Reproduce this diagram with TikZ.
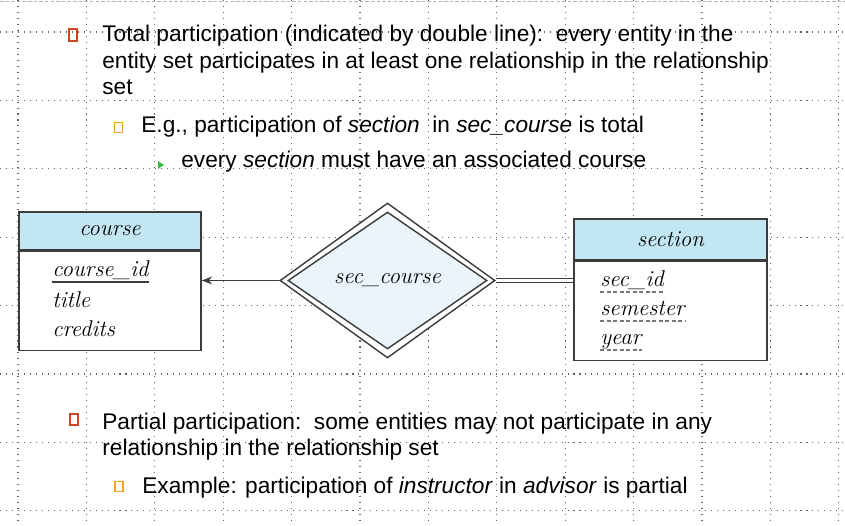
\documentclass[tikz,border=0pt]{standalone}
\usepackage{fontspec}
\setsansfont{Liberation Sans}
\usepackage{tikz}
\usetikzlibrary{positioning,arrows.meta,shapes.geometric,calc}
\definecolor{hdrblue}{RGB}{194,231,242}
\definecolor{relblue}{RGB}{233,245,250}
\definecolor{erline}{RGB}{60,60,60}
\definecolor{bulred}{RGB}{204,68,34}
\definecolor{bulorange}{RGB}{245,160,30}
\definecolor{bulgreen}{RGB}{60,190,60}
\definecolor{gridgray}{RGB}{100,100,100}
\newcommand{\pxl}{0.02cm}
\tikzset{
  txt/.style    = {font=\sffamily\fontsize{12.9}{15.1}\selectfont, inner sep=0pt, anchor=base west, align=left},
  ertxt/.style  = {font=\fontsize{13}{15}\selectfont\itshape, inner sep=0pt},
  hdr/.style    = {draw=erline, line width=0.8pt, fill=hdrblue, inner sep=0pt, font=\fontsize{13}{15}\selectfont\itshape},
  ebody/.style  = {draw=erline, line width=0.8pt, fill=white, inner sep=0pt},
  bulsq/.style  = {draw, rectangle, line width=1.1pt, inner sep=0pt, minimum width=8.5*\pxl, minimum height=11.5*\pxl},
  griddot/.style= {gridgray, line width=0.6pt, dash pattern=on 0.6pt off 2.8pt},
  keyline/.style= {erline, line width=0.6pt},
  pkeyline/.style={erline!70, line width=0.6pt, dash pattern=on 2.3pt off 1.4pt},
}

\begin{document}
\begin{tikzpicture}[x=\pxl, y=-\pxl]
  \useasboundingbox (0,0) rectangle (845,526);
  % grid of the slide
  \foreach \gx in {0,...,12} \draw[griddot] ({18+68.4*\gx},0) -- ({18+68.4*\gx},526);
  \foreach \gy in {0,...,7} \draw[griddot] (0,{32+68.4*\gy}) -- (845,{32+68.4*\gy});
  \draw[gray!60, dash pattern=on 2pt off 1.2pt] (0,1) -- (845,1);

  % bullets and text (multi-line nodes sit on their last baseline)
  \node[bulsq, draw=bulred] (b1) at (73,35) {};
  \node[txt] (t1) at (102,95) {Total participation (indicated by double line):\ \ every entity in the\\entity set participates in at least one relationship in the relationship\\set};
  \node[bulsq, draw=bulorange, minimum width=8*\pxl, minimum height=10*\pxl] (b2) at (118.5,127.5) {};
  \node[txt] (t2) at (141,133) {E.g., participation of \textit{section}\ \ in \textit{sec\_course} is total};
  \fill[bulgreen] (158,161) -- (164,165) -- (158,169) -- cycle;
  \node[txt] (t3) at (181,168) {every \textit{section} must have an associated course};
  \node[bulsq, draw=bulred] (b3) at (74,419.5) {};
  \node[txt] (t4) at (102,456) {Partial participation:\ \ some entities may not participate in any\\relationship in the relationship set};
  \node[bulsq, draw=bulorange, minimum width=8*\pxl, minimum height=10*\pxl] (b4) at (119,486.5) {};
  \node[txt] (t5) at (142,494) {Example: participation of \textit{instructor} in \textit{advisor} is partial};

  % entity course
  \node[hdr, minimum width=182*\pxl, minimum height=38*\pxl] (coursehdr) at (110,231) {course};
  \node[ebody, minimum width=182*\pxl, minimum height=99*\pxl, below=0pt of coursehdr] (coursebody) {};
  \node[ertxt, anchor=base west] (cid) at (52,277) {course\_id};
  \node[ertxt, anchor=base west] (ctitle) at (52,308) {title};
  \node[ertxt, anchor=base west] (ccred) at (52,337) {credits};
  \draw[keyline] ([yshift=-5*\pxl]cid.base west) -- ([yshift=-5*\pxl]cid.base east);

  % entity section
  \node[hdr, minimum width=193*\pxl, minimum height=41*\pxl] (sectionhdr) at (670.5,239.5) {section};
  \node[ebody, minimum width=193*\pxl, minimum height=99*\pxl, below=0pt of sectionhdr] (sectionbody) {};
  \node[ertxt, anchor=base west] (sid) at (600,287) {sec\_id};
  \node[ertxt, anchor=base west] (ssem) at (600,316) {semester};
  \node[ertxt, anchor=base west] (syear) at (600,345) {year};
  \foreach \a in {sid,ssem,syear}
    \draw[pkeyline] ([yshift=-5*\pxl]\a.base west) -- ([yshift=-5*\pxl]\a.base east);

  % relationship sec_course
  \node[diamond, draw=erline, line width=0.8pt, fill=white, inner sep=0pt,
        minimum width=215*\pxl, minimum height=155*\pxl] (rel) at (387.5,280.5) {};
  \node[diamond, draw=erline, line width=0.8pt, fill=relblue, inner sep=0pt,
        minimum width=199*\pxl, minimum height=137*\pxl, font=\fontsize{13}{15}\selectfont\itshape] (relin) at (rel.center) {sec\_course};

  \draw[erline, line width=0.7pt, -{Stealth[length=6pt, width=4.5pt]}] (rel.west) -- (rel.west -| coursebody.east);
  \draw[erline, line width=0.6pt, double, double distance=1.5pt] (rel.east) -- (rel.east -| sectionbody.west);
\end{tikzpicture}
\end{document}
